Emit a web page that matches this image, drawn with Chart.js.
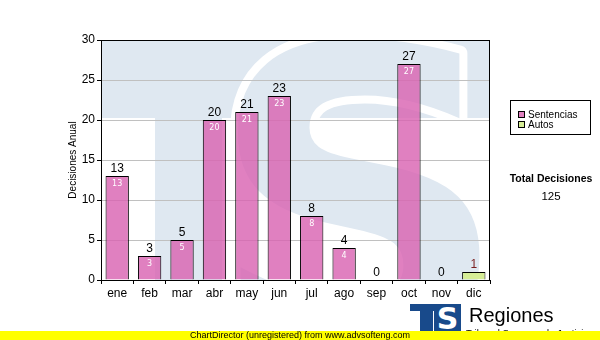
<!DOCTYPE html>
<html>
<head>
<meta charset="utf-8">
<script src="https://cdn.jsdelivr.net/npm/chart.js@4.4.1/dist/chart.umd.min.js"></script>
<style>
body { margin: 0; background: #fff; }
#wrap { position: relative; width: 600px; height: 340px; overflow: hidden; font-family: "Liberation Sans", Arial, sans-serif; }
#chart { position: absolute; left: 0; top: 0; }
.legend { position: absolute; left: 510px; top: 100px; width: 79px; height: 33px; border: 1px solid #000; background: #fff; font-size: 10px; }
.legend div { position: absolute; left: 7px; height: 10px; line-height: 10px; white-space: nowrap; }
.legend span { display: inline-block; width: 5px; height: 5px; border: 1px solid #000; margin-right: 3px; vertical-align: 0px; }
.total { position: absolute; left: 500px; width: 102px; text-align: center; }
.logo div { position: absolute; background: #184a8b; }
.footer { position: absolute; left: 0; top: 331px; width: 600px; height: 9px; background: #ffff00; font-size: 9px; line-height: 9px; text-align: center; }
</style>
</head>
<body>
<div id="wrap">
  <canvas id="chart" width="600" height="340"></canvas>
  <div class="legend">
    <div style="top:9px"><span style="background:#e080c0"></span>Sentencias</div>
    <div style="top:19px"><span style="background:#d6ee96"></span>Autos</div>
  </div>
  <div class="total" style="top:172px; font-weight:bold; font-size:10.5px;">Total Decisiones</div>
  <div class="total" id="total" style="top:190px; font-size:11.5px;"></div>
  <div class="logo">
    <div style="left:410px; top:304px; width:24px; height:7px;"></div>
    <div style="left:420px; top:304px; width:13px; height:27px;"></div>
    <div style="left:434px; top:304px; width:27px; height:27px; color:#fff; font:bold 30px 'DejaVu Sans'; line-height:30px; text-align:center; overflow:hidden;">S</div>
  </div>
  <div style="position:absolute; left:469px; top:303px; font-size:20px; line-height:24px;">Regiones</div>
  <div style="position:absolute; left:466px; top:327px; font-size:9.5px; line-height:11px; white-space:nowrap;">Tribunal Supremo de Justicia</div>
  <div class="footer">ChartDirector (unregistered) from www.advsofteng.com</div>
</div>
<script>
const months = ['ene', 'feb', 'mar', 'abr', 'may', 'jun', 'jul', 'ago', 'sep', 'oct', 'nov', 'dic'];
const sentencias = [13, 3, 5, 20, 21, 23, 8, 4, 0, 27, 0, 0];
const autos = [0, 0, 0, 0, 0, 0, 0, 0, 0, 0, 0, 1];
const yMin = 0, yMax = 30, yStep = 5;

const totals = months.map((m, i) => sentencias[i] + autos[i]);
document.getElementById('total').textContent = totals.reduce((a, b) => a + b, 0);

// faded "IS" logo behind the plot
const watermark = {
    id: 'watermark',
    beforeDraw(chart) {
        const { ctx, chartArea: a } = chart;
        ctx.save();
        ctx.beginPath();
        ctx.rect(a.left, a.top, a.right - a.left, a.bottom - a.top);
        ctx.clip();
        ctx.fillStyle = '#dfe8f1';
        ctx.fillRect(a.left, a.top, a.right - a.left, 78);
        ctx.fillRect(a.left + 54, a.top, 67, a.bottom - a.top);
        ctx.font = 'bold 420px "DejaVu Sans"';
        ctx.textAlign = 'center';
        ctx.textBaseline = 'alphabetic';
        ctx.lineJoin = 'round';
        ctx.lineWidth = 16;
        ctx.strokeStyle = '#fff';
        ctx.strokeText('S', a.left + 258, a.top + 310);
        ctx.fillText('S', a.left + 258, a.top + 310);
        ctx.restore();
    }
};

// values above and inside bars, frame around plot
const barLabels = {
    id: 'barLabels',
    afterDatasetsDraw(chart) {
        const { ctx, chartArea: a } = chart;
        const xs = chart.scales.x, ys = chart.scales.y;
        ctx.save();
        ctx.textAlign = 'center';
        totals.forEach((t, i) => {
            const x = xs.getPixelForValue(i);
            const y = ys.getPixelForValue(t);
            ctx.font = '12px "Liberation Sans"';
            ctx.textBaseline = 'bottom';
            ctx.fillStyle = (autos[i] > 0 && sentencias[i] === 0) ? '#7a1f1f' : '#000';
            ctx.fillText(t, x, y - 1);
            if (sentencias[i] >= 3) {
                ctx.font = '8px "DejaVu Sans"';
                ctx.textBaseline = 'top';
                ctx.fillStyle = '#fff';
                ctx.fillText(sentencias[i], x, ys.getPixelForValue(sentencias[i]) + 4);
            }
        });
        ctx.strokeStyle = '#000';
        ctx.lineWidth = 1;
        ctx.strokeRect(a.left + 0.5, a.top + 0.5, a.right - a.left - 1, a.bottom - a.top);
        ctx.restore();
    }
};

new Chart(document.getElementById('chart'), {
    type: 'bar',
    data: {
        labels: months,
        datasets: [{
            label: 'Sentencias',
            data: sentencias.map(v => v || null),
            backgroundColor: 'rgba(216, 96, 176, 0.8)',
            borderColor: '#000',
            borderWidth: 1
        }, {
            label: 'Autos',
            data: autos.map(v => v || null),
            backgroundColor: '#d6ee96',
            borderColor: '#000',
            borderWidth: 1
        }]
    },
    options: {
        responsive: false,
        animation: false,
        devicePixelRatio: 1,
        barPercentage: 0.72,
        categoryPercentage: 1,
        layout: { padding: { top: 40, right: 110, bottom: 40, left: 0 } },
        plugins: { legend: { display: false }, tooltip: { enabled: false } },
        scales: {
            x: {
                stacked: true,
                grid: { drawOnChartArea: false, tickLength: 4, tickColor: '#000' },
                border: { color: '#000' },
                ticks: { color: '#000', padding: 2, font: { family: 'Liberation Sans', size: 12 } },
                afterFit(s) { s.height = 20; }
            },
            y: {
                stacked: true,
                min: yMin,
                max: yMax,
                grid: { color: '#c0c0c0', tickLength: 4, tickColor: '#000' },
                border: { color: '#000' },
                ticks: { stepSize: yStep, color: '#000', padding: 2, font: { family: 'Liberation Sans', size: 12 } },
                title: {
                    display: true,
                    text: 'Decisiones Anual',
                    color: '#000',
                    padding: { top: 67, bottom: 0 },
                    font: { family: 'Liberation Sans', size: 10 }
                },
                afterFit(s) { s.width = 101; }
            }
        }
    },
    plugins: [watermark, barLabels]
});
</script>
</body>
</html>
